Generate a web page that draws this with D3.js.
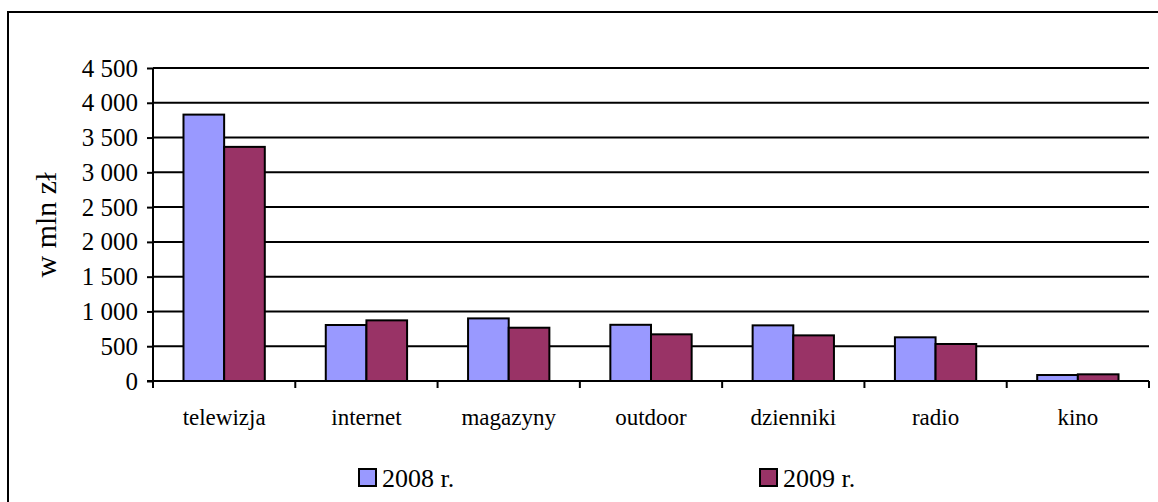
<!DOCTYPE html>
<html>
<head>
<meta charset="utf-8">
<script src="https://cdn.jsdelivr.net/npm/d3@7"></script>
<style>
  html, body { margin: 0; padding: 0; background: #fff; }
  svg { display: block; }
  svg text { font-family: "Liberation Serif", "Times New Roman", serif !important; fill: #000; }
</style>
</head>
<body>
<svg id="chart" width="1158" height="502"></svg>
<script>
// Advertising spend by medium, in millions of złoty
const categories = ["telewizja", "internet", "magazyny", "outdoor", "dzienniki", "radio", "kino"];
const values2008 = [3830, 805, 900, 808, 800, 628, 86];
const values2009 = [3366, 872, 766, 671, 656, 532, 96];
const seriesNames = ["2008 r.", "2009 r."];
const seriesColors = ["#9999FF", "#993366"];
const yTicks = [0, 500, 1000, 1500, 2000, 2500, 3000, 3500, 4000, 4500];

const svg = d3.select("#chart");

// outer frame
svg.append("rect")
  .attr("x", 8).attr("y", 12)
  .attr("width", 1160).attr("height", 500)
  .attr("fill", "none").attr("stroke", "#000").attr("stroke-width", 2);

const plot = { left: 153, right: 1149, top: 68, bottom: 381 };

const y = d3.scaleLinear().domain([0, 4500]).range([plot.bottom, plot.top]);
const x = d3.scaleBand().domain(categories).range([plot.left, plot.right]).padding(0);
const bw = x.bandwidth() / 3.5;   // two bars plus a 150% gap
const inner = d3.scaleBand().domain([0, 1]).range([0.75 * bw, 2.75 * bw]).padding(0);

const fmt = v => d3.format(",")(v).replace(/,/g, "\u00a0");

// gridlines
svg.append("g").selectAll("line")
  .data(yTicks.filter(d => d > 0))
  .join("line")
  .attr("x1", plot.left).attr("x2", plot.right)
  .attr("y1", d => y(d)).attr("y2", d => y(d))
  .attr("stroke", "#000").attr("stroke-width", 2);

// bars
const series = [values2008, values2009];
const groups = svg.append("g").selectAll("g")
  .data(categories)
  .join("g")
  .attr("transform", d => `translate(${x(d)},0)`);

groups.selectAll("rect")
  .data((c, i) => series.map((s, k) => ({ k, v: s[i] })))
  .join("rect")
  .attr("x", d => inner(d.k))
  .attr("width", inner.bandwidth())
  .attr("y", d => y(d.v))
  .attr("height", d => y(0) - y(d.v))
  .attr("fill", d => seriesColors[d.k])
  .attr("stroke", "#000").attr("stroke-width", 2);

// y axis
const yAxis = svg.append("g")
  .attr("transform", `translate(${plot.left},0)`)
  .call(d3.axisLeft(y).tickValues(yTicks).tickFormat(fmt).tickSize(6).tickPadding(9));
yAxis.attr("font-family", null);
yAxis.select(".domain").attr("stroke-width", 2).attr("d", `M0,${plot.top}V${plot.bottom}`);
yAxis.selectAll(".tick line").attr("stroke-width", 2);
yAxis.selectAll(".tick text").attr("font-size", 25);

// x axis with ticks at category boundaries
const xg = svg.append("g").attr("transform", `translate(0,${plot.bottom})`);
xg.append("line")
  .attr("x1", plot.left - 6).attr("x2", plot.right)
  .attr("stroke", "#000").attr("stroke-width", 2);
xg.selectAll("line.tk")
  .data(categories.map(c => x(c)).concat([plot.right]))
  .join("line").attr("class", "tk")
  .attr("x1", d => d).attr("x2", d => d)
  .attr("y1", 0).attr("y2", 7)
  .attr("stroke", "#000").attr("stroke-width", 2);
xg.selectAll("text")
  .data(categories)
  .join("text")
  .attr("x", d => x(d) + x.bandwidth() / 2)
  .attr("y", 44)
  .attr("text-anchor", "middle")
  .attr("font-size", 23)
  .text(d => d);

// y axis title
svg.append("text")
  .attr("transform", "translate(56,225) rotate(-90)")
  .attr("text-anchor", "middle")
  .attr("font-size", 30)
  .text("w mln zł");

// legend
const legendX = [358, 759];
const leg = svg.append("g").selectAll("g")
  .data(seriesNames)
  .join("g")
  .attr("transform", (d, i) => `translate(${legendX[i]},468)`);
leg.append("rect")
  .attr("x", 1).attr("y", 1).attr("width", 17).attr("height", 17)
  .attr("fill", (d, i) => seriesColors[i])
  .attr("stroke", "#000").attr("stroke-width", 2);
leg.append("text")
  .attr("x", 24).attr("y", 19)
  .attr("font-size", 26)
  .text(d => d);
</script>
</body>
</html>
